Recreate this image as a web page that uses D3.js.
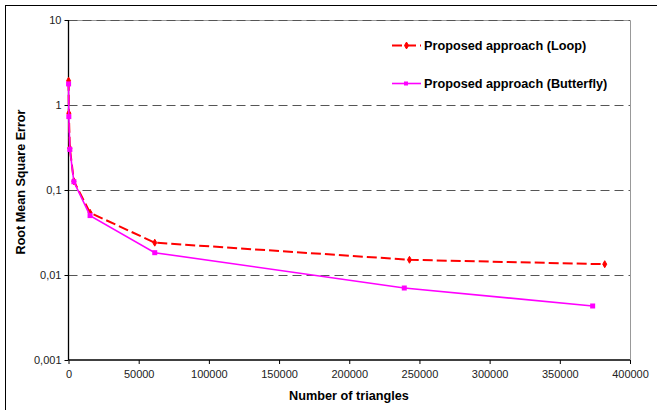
<!DOCTYPE html>
<html>
<head>
<meta charset="utf-8">
<script src="https://cdn.jsdelivr.net/npm/d3@7"></script>
<style>
  html, body { margin: 0; padding: 0; background: #fff; }
  svg { display: block; font-family: "Liberation Sans", Arial, sans-serif; }
</style>
</head>
<body>
<svg id="chart" width="657" height="410"></svg>
<script>
// Triangle counts per refinement level
const loopTriangles = [60, 240, 960, 3840, 15360, 61440, 242900, 382000];
const butterflyTriangles = [60, 240, 960, 3840, 15360, 61440, 239200, 373400];
// Root mean square error per level
const loopRmse = [1.93, 0.80, 0.31, 0.127, 0.054, 0.024, 0.0151, 0.0134];
const butterflyRmse = [1.77, 0.73, 0.30, 0.125, 0.050, 0.0183, 0.00703, 0.00432];
const seriesNames = ["Proposed approach (Loop)", "Proposed approach (Butterfly)"];
const xTicks = [0, 50000, 100000, 150000, 200000, 250000, 300000, 350000, 400000];
const yTicks = [0.001, 0.01, 0.1, 1, 10];
const yTickLabels = ["0,001", "0,01", "0,1", "1", "10"];

const svg = d3.select("#chart");
const plot = { left: 68.5, right: 630, top: 20, bottom: 360 };

const x = d3.scaleLinear().domain([0, 400000]).range([plot.left, plot.right]);
const y = d3.scaleLog().domain([0.001, 10]).range([plot.bottom, plot.top]);

// outer frame
svg.append("rect")
  .attr("x", 5.5).attr("y", 5.5).attr("width", 700).attr("height", 500)
  .attr("fill", "none").attr("stroke", "#000").attr("stroke-width", 1);

// plot area border (top and right)
svg.append("path")
  .attr("d", `M${plot.left},${plot.top + 0.5}H${plot.right + 0.5}V${plot.bottom}`)
  .attr("fill", "none").attr("stroke", "#999").attr("stroke-width", 1);

// horizontal dashed gridlines
svg.append("g").selectAll("line")
  .data(yTicks.filter(v => v > 0.001))
  .join("line")
  .attr("x1", plot.left).attr("x2", plot.right)
  .attr("y1", d => Math.round(y(d)) + 0.5).attr("y2", d => Math.round(y(d)) + 0.5)
  .attr("stroke", "#555").attr("stroke-width", 1)
  .attr("stroke-dasharray", "9,5");

// axes
const yAxis = d3.axisLeft(y)
  .tickValues(yTicks)
  .tickFormat((d, i) => yTickLabels[i])
  .tickSize(4).tickPadding(3);
const gy = svg.append("g")
  .attr("transform", `translate(${plot.left},0)`)
  .call(yAxis);

const xAxis = d3.axisBottom(x)
  .tickValues(xTicks)
  .tickFormat(d3.format("d"))
  .tickSize(4).tickPadding(6);
const gx = svg.append("g")
  .attr("transform", `translate(0,${plot.bottom})`)
  .call(xAxis);

[gx, gy].forEach(g => {
  g.select(".domain").attr("stroke", "#000").attr("stroke-width", 1.3);
  g.selectAll(".tick line").attr("stroke", "#000");
  g.selectAll(".tick text")
    .attr("font-size", 11).attr("fill", "#222")
    .attr("font-family", "Liberation Sans, Arial, sans-serif");
});
gx.select(".domain").attr("d", `M${plot.left},0H${plot.right}`);
gy.select(".domain").attr("d", `M0,${plot.bottom}V${plot.top}`);

// axis titles
svg.append("text")
  .attr("x", 349).attr("y", 400)
  .attr("text-anchor", "middle")
  .attr("font-size", 12.7).attr("font-weight", "bold")
  .text("Number of triangles");
svg.append("text")
  .attr("transform", `translate(25,182) rotate(-90)`)
  .attr("text-anchor", "middle")
  .attr("font-size", 12.6).attr("font-weight", "bold")
  .text("Root Mean Square Error");

const line = d3.line().x(d => x(d[0])).y(d => y(d[1]));
const loopData = loopTriangles.map((t, i) => [t, loopRmse[i]]);
const butterflyData = butterflyTriangles.map((t, i) => [t, butterflyRmse[i]]);

const diamond = d3.symbol().type(d3.symbolDiamond).size(14);

// Loop series: red dashed with diamonds
svg.append("path")
  .datum(loopData)
  .attr("d", line)
  .attr("fill", "none").attr("stroke", "#ff0000").attr("stroke-width", 2)
  .attr("stroke-dasharray", "10,4");
svg.append("g").selectAll("path")
  .data(loopData)
  .join("path")
  .attr("d", diamond)
  .attr("transform", d => `translate(${x(d[0])},${y(d[1])})`)
  .attr("fill", "#ff0000").attr("stroke", "#ff0000").attr("stroke-width", 1);

// Butterfly series: magenta solid with squares
svg.append("path")
  .datum(butterflyData)
  .attr("d", line)
  .attr("fill", "none").attr("stroke", "#ff00ff").attr("stroke-width", 1.6);
svg.append("g").selectAll("rect")
  .data(butterflyData)
  .join("rect")
  .attr("x", d => x(d[0]) - 2.5).attr("y", d => y(d[1]) - 2.5)
  .attr("width", 5).attr("height", 5)
  .attr("fill", "#ff00ff");

// legend
const legend = svg.append("g");
const legendRows = [
  { name: seriesNames[0], color: "#ff0000", dash: "10,4", width: 2, y: 45.5, marker: "diamond" },
  { name: seriesNames[1], color: "#ff00ff", dash: null, width: 1.6, y: 83.5, marker: "square" }
];
legendRows.forEach(r => {
  legend.append("line")
    .attr("x1", 392).attr("x2", 421).attr("y1", r.y).attr("y2", r.y)
    .attr("stroke", r.color).attr("stroke-width", r.width)
    .attr("stroke-dasharray", r.dash);
  if (r.marker === "diamond") {
    legend.append("path").attr("d", diamond)
      .attr("transform", `translate(406.5,${r.y})`)
      .attr("fill", r.color).attr("stroke", r.color);
  } else {
    legend.append("rect")
      .attr("x", 404).attr("y", r.y - 2).attr("width", 4).attr("height", 4)
      .attr("fill", r.color);
  }
  legend.append("text")
    .attr("x", 424).attr("y", r.y + 4.5)
    .attr("font-size", 12.7).attr("font-weight", "bold")
    .text(r.name);
});
</script>
</body>
</html>
